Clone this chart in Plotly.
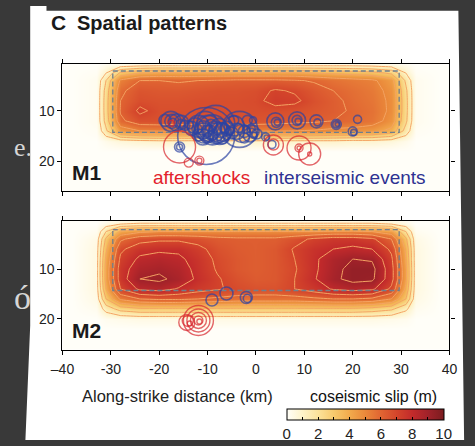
import plotly.graph_objects as go

W, H = 475, 446


def fx(p):
    """pixel column -> paper fraction"""
    return p / W


def fy(p):
    """pixel row (from top) -> paper fraction"""
    return 1 - p / H


# ---------------------------------------------------------------- slip models
grid_x = [-38, -33, -31, -28, -24, -20, -16, -12, -8, -4, 0, 4, 8, 12, 16, 20, 24, 28, 31, 33, 38]
grid_y = [0, 1, 2.5, 4, 6, 8, 10, 12, 14, 16, 18, 20, 22, 26]

zero_row = [0] * len(grid_x)

slip_m1 = [
    zero_row,
    [0, 0, 0.3, 0.6, 0.8, 0.9, 0.9, 0.9, 0.9, 0.9, 0.9, 0.9, 0.9, 0.9, 0.9, 0.9, 0.8, 0.6, 0.3, 0, 0],
    [0, 0.1, 1.0, 3.2, 4.0, 4.2, 4.2, 4.2, 4.2, 4.2, 4.2, 4.2, 4.2, 4.0, 3.8, 3.6, 3.4, 2.8, 1.0, 0.1, 0],
    [0, 0.2, 2.0, 5.2, 6.0, 6.0, 5.9, 6.0, 6.1, 6.2, 6.2, 6.2, 6.1, 5.9, 5.6, 5.4, 5.2, 4.4, 1.8, 0.2, 0],
    [0, 0.2, 2.4, 5.8, 6.5, 6.4, 6.4, 6.5, 6.6, 6.6, 6.7, 7.1, 6.9, 6.4, 6.0, 5.7, 5.4, 4.7, 2.2, 0.2, 0],
    [0, 0.2, 2.5, 6.0, 6.7, 6.6, 6.6, 6.7, 6.7, 6.7, 6.8, 7.3, 7.2, 6.6, 6.2, 5.8, 5.5, 4.8, 2.3, 0.2, 0],
    [0, 0.2, 2.5, 6.1, 7.2, 6.7, 6.7, 6.7, 6.7, 6.7, 6.7, 6.7, 6.6, 6.4, 6.2, 5.9, 5.6, 4.8, 2.3, 0.2, 0],
    [0, 0.2, 2.4, 5.8, 6.6, 6.6, 6.5, 6.5, 6.5, 6.5, 6.5, 6.4, 6.3, 6.2, 6.0, 5.8, 5.5, 4.6, 2.2, 0.2, 0],
    [0, 0.1, 1.8, 4.4, 5.0, 5.1, 5.1, 5.1, 5.1, 5.1, 5.1, 5.1, 5.0, 4.9, 4.7, 4.6, 4.4, 3.7, 1.6, 0.1, 0],
    [0, 0, 0.3, 0.6, 0.8, 0.9, 0.9, 0.9, 0.9, 0.9, 0.9, 0.9, 0.9, 0.9, 0.9, 0.8, 0.8, 0.6, 0.3, 0, 0],
    zero_row,
    zero_row,
    zero_row,
    zero_row,
]

slip_m2 = [
    zero_row,
    [0, 0, 0.5, 1.0, 1.2, 1.2, 1.2, 1.2, 1.2, 1.2, 1.2, 1.2, 1.2, 1.2, 1.2, 1.2, 1.2, 1.0, 0.5, 0, 0],
    [0, 0.2, 2.0, 4.2, 4.8, 5.0, 5.0, 5.0, 5.0, 5.0, 5.0, 5.0, 5.0, 5.0, 5.2, 5.2, 5.0, 4.4, 2.0, 0.2, 0],
    [0, 0.4, 3.2, 5.8, 6.6, 6.8, 6.8, 6.6, 6.3, 6.2, 6.2, 6.2, 6.6, 7.2, 7.5, 7.5, 7.2, 6.0, 3.2, 0.4, 0],
    [0, 0.5, 3.8, 6.8, 7.6, 7.8, 7.8, 7.3, 6.6, 6.3, 6.2, 6.4, 7.1, 7.7, 8.0, 8.2, 8.0, 6.8, 3.8, 0.5, 0],
    [0, 0.5, 4.2, 7.2, 8.2, 8.4, 8.2, 7.6, 6.8, 6.4, 6.2, 6.4, 7.0, 7.8, 8.6, 9.0, 8.9, 7.2, 4.0, 0.5, 0],
    [0, 0.5, 4.4, 7.5, 8.6, 8.8, 8.5, 7.7, 6.9, 6.4, 6.2, 6.4, 6.9, 7.8, 8.7, 9.3, 9.3, 7.4, 4.2, 0.5, 0],
    [0, 0.5, 4.4, 7.5, 9.0, 9.2, 8.7, 7.8, 7.1, 6.6, 6.3, 6.4, 7.0, 7.9, 8.8, 9.3, 9.2, 7.4, 4.2, 0.5, 0],
    [0, 0.5, 4.0, 7.0, 8.2, 8.4, 7.9, 7.4, 7.1, 6.8, 6.6, 6.6, 7.0, 7.5, 8.1, 8.4, 8.2, 6.8, 3.8, 0.5, 0],
    [0, 0.4, 3.0, 5.2, 6.0, 6.2, 6.2, 6.0, 5.8, 5.6, 5.6, 5.6, 5.6, 5.8, 6.0, 6.0, 5.8, 5.0, 3.0, 0.4, 0],
    [0, 0.2, 1.4, 2.4, 2.8, 2.8, 2.8, 2.8, 2.8, 2.8, 2.8, 2.8, 2.8, 2.8, 2.8, 2.8, 2.6, 2.2, 1.2, 0.2, 0],
    [0, 0, 0.2, 0.3, 0.4, 0.4, 0.4, 0.4, 0.4, 0.4, 0.4, 0.4, 0.4, 0.4, 0.4, 0.4, 0.4, 0.3, 0.2, 0, 0],
    zero_row,
    zero_row,
]

# fault plane outline (km)
fault_x = [-29.6, 29.6, 29.6, -29.6, -29.6]
fault_y = [2.1, 2.1, 14.3, 14.3, 2.1]

# ---------------------------------------------------------------- events, M1
m1_inter_x = [-17.6, -17.4, -17.2, -16.4, -15.4, -15.6, -18.8, -14.7,
              -10.3, -8.3, -3.4,
              -11.9, -10.9, -9.9, -9.5, -8.5, -7.7, -8.9, -6.9, -5.9, -11.9, -13.3,
              -5.0, -4.0, -2.4, -1.2, -0.6, -1.8, -0.6, -4.6, -2.4, -6.9, -9.9,
              -12.5, -10.5, -9.0, -7.5, -6.5, -4.5, -3.0, -1.0, -8.0, -11.0, -13.8, 0.2, -0.4,
              -10.0, -8.7, -7.2, -5.4, -12.2, -6.0, -9.3, -3.6, -2.0, -10.8,
              2.0, 2.2, -15.8, -15.8, 3.3,
              4.0, 4.2, 4.4, 8.5, 8.5, 8.7, 12.5, 12.7, 16.6, 16.6, 16.8, 21.0, 20.0, 20.2]
m1_inter_y = [12.1, 12.1, 12.3, 12.3, 12.3, 12.5, 11.9, 12.9,
              15.0, 12.7, 13.7,
              13.1, 13.8, 13.5, 14.3, 14.1, 13.1, 14.8, 14.3, 13.5, 14.8, 13.5,
              14.4, 14.1, 14.1, 14.8, 14.1, 11.9, 11.9, 11.9, 15.4, 15.4, 15.4,
              13.0, 12.5, 13.8, 14.5, 13.5, 13.0, 14.5, 13.5, 15.5, 15.2, 12.8, 14.6, 14.9,
              14.0, 13.4, 13.9, 14.0, 13.6, 15.0, 12.9, 13.4, 13.8, 14.4,
              15.2, 15.3, 17.2, 17.2, 16.7,
              12.1, 12.3, 12.3, 11.9, 11.9, 12.1, 12.1, 12.3, 12.7, 12.7, 12.7, 11.7, 14.1, 14.3]
m1_inter_size = [20, 14, 8, 17, 14, 8, 12, 10,
                 57, 38, 36,
                 22, 18, 26, 14, 20, 16, 10, 18, 14, 12, 14,
                 12, 16, 12, 14, 12, 10, 7, 10, 10, 12, 10,
                 16, 24, 30, 22, 10, 20, 18, 8, 8, 16, 8, 10, 6,
                 12, 9, 14, 8, 10, 7, 12, 9, 7, 20,
                 8, 5, 10, 6, 8,
                 17, 10, 6, 17, 10, 6, 13, 7, 10, 7, 4, 8, 9, 6]

m1_after_x = [-15.8, -13.9, -11.7, -11.7, 3.6, 3.6, 8.9, 8.9, 8.9, 11.1, 11.1, -17.5]
m1_after_y = [17.2, 20.3, 19.9, 19.9, 16.8, 16.7, 17.4, 17.4, 17.4, 18.6, 18.6, 12.5]
m1_after_size = [32, 9, 9, 5, 20, 11, 24, 8, 4, 22, 4, 6]

# ---------------------------------------------------------------- events, M2
m2_inter_x = [-9.1, -6.1, -2.0, -1.8]
m2_inter_y = [16.2, 14.9, 15.7, 15.9]
m2_inter_size = [12, 13, 12, 8]

m2_after_x = [-11.9, -11.9, -11.9, -11.9, -14.3, -14.1, -13.7, -11.7]
m2_after_y = [20.3, 20.3, 20.3, 20.3, 20.7, 20.4, 20.9, 20.5]
m2_after_size = [30, 23, 16, 9, 16, 11, 5, 5]

# ---------------------------------------------------------------- ticks
x_ticks = [-40, -30, -20, -10, 0, 10, 20, 30, 40]
x_tick_text = ["\u201340", "-30", "-20", "-10", "0", "10", "20", "30", "40"]
y_ticks = [10, 20]

# ---------------------------------------------------------------- styling
slip_scale = [
    [0.0, "#fffef8"], [0.1, "#fef3c8"], [0.2, "#fbe29a"], [0.3, "#f7c96c"],
    [0.4, "#f2aa4c"], [0.5, "#ea883a"], [0.6, "#e06432"], [0.7, "#d4452b"],
    [0.8, "#c22a2b"], [0.9, "#a0222a"], [1.0, "#7a1c1f"],
]
BLUE = "#2c43a2"
RED = "#d7262e"
FONT = "Liberation Sans, Arial, sans-serif"
SERIF = "Liberation Serif, serif"

fig = go.Figure()

panels = [("x", "y", slip_m1, m1_inter_x, m1_inter_y, m1_inter_size, m1_after_x, m1_after_y, m1_after_size),
          ("x2", "y2", slip_m2, m2_inter_x, m2_inter_y, m2_inter_size, m2_after_x, m2_after_y, m2_after_size)]

for i, (xa, ya, slip, ix, iy, isz, ax_, ay_, asz) in enumerate(panels):
    fig.add_trace(go.Heatmap(
        x=grid_x, y=grid_y, z=slip, zsmooth="best", zmin=0, zmax=10,
        colorscale=slip_scale, xaxis=xa, yaxis=ya, hoverinfo="skip",
        showscale=(i == 0),
        colorbar=dict(
            orientation="h", x=fx(368.7), xanchor="center", y=fy(414.3), yanchor="top",
            len=164 / W, lenmode="fraction", thickness=10.7, thicknessmode="pixels",
            outlinecolor="black", outlinewidth=1, xpad=0, ypad=0,
            tickvals=list(range(11)),
            ticktext=["0", "", "2", "", "4", "", "6", "", "8", "", "10"],
            ticks="inside", ticklen=3, tickcolor="black", tickwidth=1,
            tickfont=dict(family=FONT, size=15, color="#222"),
        ),
    ))
    fig.add_trace(go.Contour(
        x=grid_x, y=grid_y, z=slip, xaxis=xa, yaxis=ya,
        contours=dict(start=1, end=9, size=1, coloring="none"),
        line=dict(color="#f4a463", width=1, smoothing=0),
        showscale=False, hoverinfo="skip",
    ))
    fig.add_trace(go.Scatter(
        x=fault_x, y=fault_y, mode="lines", xaxis=xa, yaxis=ya,
        line=dict(color="#6f7f8c", width=1.3, dash="5px,3px"), hoverinfo="skip",
    ))
    fig.add_trace(go.Scatter(
        x=ix, y=iy, mode="markers", xaxis=xa, yaxis=ya, hoverinfo="skip",
        marker=dict(symbol="circle-open", size=isz, color=BLUE, line=dict(width=1.6)),
    ))
    fig.add_trace(go.Scatter(
        x=ax_, y=ay_, mode="markers", xaxis=xa, yaxis=ya, hoverinfo="skip",
        marker=dict(symbol="circle-open", size=asz, color=RED, line=dict(width=1.4)),
    ))

axis_common = dict(
    showgrid=False, zeroline=False, showline=True, linecolor="black", linewidth=1.3,
    mirror="ticks", ticks="outside", ticklen=4, tickwidth=1, tickcolor="black",
    tickfont=dict(family=FONT, size=14, color="#222"),
)

fig.update_layout(
    width=W, height=H, margin=dict(l=0, r=0, t=0, b=0),
    paper_bgcolor="#393939", plot_bgcolor="rgba(0,0,0,0)",
    showlegend=False,
    xaxis=dict(axis_common, domain=[fx(52.7), fx(456.7)], range=[-40, 40], anchor="y",
               tickvals=x_ticks, showticklabels=False),
    yaxis=dict(axis_common, domain=[fy(193.3), fy(65)], range=[25.88, 0.73], anchor="x",
               tickvals=y_ticks),
    xaxis2=dict(axis_common, domain=[fx(52.7), fx(456.7)], range=[-40, 40], anchor="y2",
                tickvals=x_ticks, ticktext=x_tick_text, ticklabelstandoff=3),
    yaxis2=dict(axis_common, domain=[fy(354.3), fy(224)], range=[26.13, 0.38], anchor="x2",
                tickvals=y_ticks),
)

# white sheet the figure is printed on
sheet = (f"M {fx(19)},{fy(6)} L {fx(36)},{fy(6)} L {fx(36)},{fy(11)} L {fx(466)},{fy(11)} "
         f"L {fx(472)},{fy(446)} L {fx(14)},{fy(446)} L {fx(19)},{fy(330)} Z")
fig.add_shape(type="path", path=sheet, xref="paper", yref="paper",
              fillcolor="white", line=dict(width=0), layer="below")


def label(text, x, y, size, color="#1a1a1a", xanchor="left", bold=False, family=FONT):
    fig.add_annotation(
        text=f"<b>{text}</b>" if bold else text, x=fx(x), y=fy(y),
        xref="paper", yref="paper", xanchor=xanchor, yanchor="middle",
        showarrow=False, font=dict(family=family, size=size, color=color),
    )


# slide lettering visible in the dark margin beside the sheet
label("e.", 0, 150, 26, color="#d6d6d6", xanchor="left", family=SERIF)
label("ó", 0, 302, 34, color="#d6d6d6", xanchor="left", family=SERIF)

label("C", 39, 23, 21, bold=True)
label("Spatial patterns", 66, 23, 20, bold=True)
label("M1", 61, 175, 21, bold=True)
label("M2", 61, 335, 21, bold=True)
label("aftershocks", 198, 180, 19, color="#e3222b", xanchor="center")
label("interseismic events", 347.5, 180, 19, color="#2e3192", xanchor="center")
label("Along-strike distance (km)", 172.5, 401, 16.5, color="#222", xanchor="center")
label("coseismic slip (m)", 377, 401.7, 16, color="#111", xanchor="center")

fig.write_html("out.html")
